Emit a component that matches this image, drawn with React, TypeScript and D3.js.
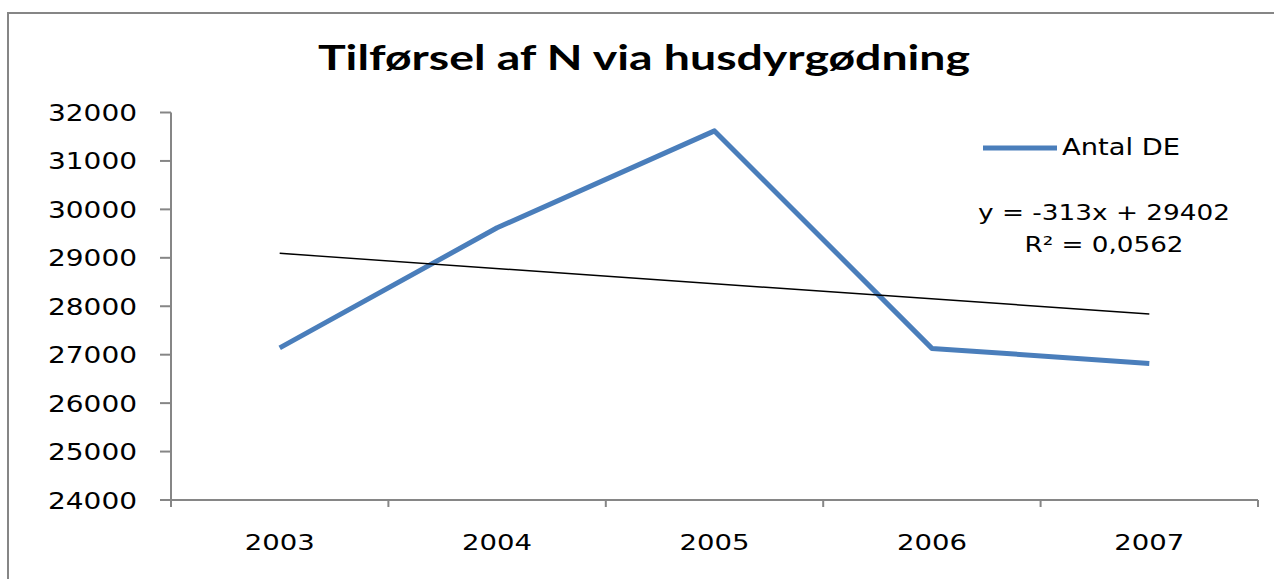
import React, { useEffect, useRef } from 'react';
import * as d3 from 'd3';

// ==================== DATA ====================
const categories = ['2003', '2004', '2005', '2006', '2007'];
const antalDE = [27140, 29620, 31620, 27130, 26820];
const yTicks = [24000, 25000, 26000, 27000, 28000, 29000, 30000, 31000, 32000];
const seriesName = 'Antal DE';
const titleText = 'Tilførsel af N via husdyrgødning';
const equationText = 'y = -313x + 29402';
const r2Text = 'R² = 0,0562';

const COLORS = {
    axis: '#868686',
    line: '#4A7EBB',
    trend: '#000000',
    text: '#000000'
};

const W = 1274;
const H = 579;

const App = () => {
    const svgRef = useRef<SVGSVGElement | null>(null);

    useEffect(() => {
        const svg = d3.select(svgRef.current);
        svg.selectAll('*').remove();

        const x = d3.scaleBand().domain(categories).range([171, 1258]);
        const y = d3.scaleLinear().domain([24000, 32000]).range([500, 112.5]);
        const cx = (c: string) => (x(c) as number) + x.bandwidth() / 2;

        // outer chart frame (runs off the right / bottom edge like the picture)
        svg.append('rect')
            .attr('x', 8).attr('y', 13)
            .attr('width', 1320).attr('height', 640)
            .attr('fill', '#fff')
            .attr('stroke', COLORS.axis)
            .attr('stroke-width', 2);

        // title
        svg.append('text')
            .attr('x', 644).attr('y', 70)
            .attr('text-anchor', 'middle')
            .attr('font-family', 'Lato, "Open Sans", sans-serif')
            .attr('font-weight', 'bold')
            .attr('font-size', 35)
            .attr('textLength', 652)
            .attr('lengthAdjust', 'spacingAndGlyphs')
            .attr('fill', COLORS.text)
            .text(titleText);

        // y axis
        const yAxis = svg.append('g');
        yAxis.append('line')
            .attr('x1', 171).attr('x2', 171)
            .attr('y1', y(32000)).attr('y2', y(24000))
            .attr('stroke', COLORS.axis).attr('stroke-width', 2);
        yAxis.selectAll('.ytick')
            .data(yTicks)
            .enter()
            .append('line')
            .attr('x1', 160).attr('x2', 171)
            .attr('y1', d => y(d)).attr('y2', d => y(d))
            .attr('stroke', COLORS.axis).attr('stroke-width', 2);
        yAxis.selectAll('.ylabel')
            .data(yTicks)
            .enter()
            .append('text')
            .attr('x', 137)
            .attr('y', d => y(d) + 8.5)
            .attr('text-anchor', 'end')
            .attr('font-family', '"DejaVu Sans", sans-serif')
            .attr('font-size', 23)
            .attr('textLength', 89)
            .attr('lengthAdjust', 'spacingAndGlyphs')
            .attr('fill', COLORS.text)
            .text(d => String(d));

        // x axis
        const xAxis = svg.append('g');
        xAxis.append('line')
            .attr('x1', 160).attr('x2', 1258)
            .attr('y1', 500).attr('y2', 500)
            .attr('stroke', COLORS.axis).attr('stroke-width', 2);
        const bounds = categories.map(c => x(c) as number).concat([1258]);
        xAxis.selectAll('.xtick')
            .data(bounds)
            .enter()
            .append('line')
            .attr('x1', d => d).attr('x2', d => d)
            .attr('y1', 500).attr('y2', 507)
            .attr('stroke', COLORS.axis).attr('stroke-width', 2);
        xAxis.selectAll('.xlabel')
            .data(categories)
            .enter()
            .append('text')
            .attr('x', d => cx(d))
            .attr('y', 550)
            .attr('text-anchor', 'middle')
            .attr('font-family', '"DejaVu Sans", sans-serif')
            .attr('font-size', 22)
            .attr('textLength', 70)
            .attr('lengthAdjust', 'spacingAndGlyphs')
            .attr('fill', COLORS.text)
            .text(d => d);

        // data line
        const pts = categories.map((c, i) => [cx(c), y(antalDE[i])] as [number, number]);
        svg.append('path')
            .attr('d', d3.line()(pts))
            .attr('fill', 'none')
            .attr('stroke', COLORS.line)
            .attr('stroke-width', 5)
            .attr('stroke-linejoin', 'round');

        // linear trendline (least squares on x = 1..n, as Excel does)
        const xs = categories.map((_, i) => i + 1);
        const mx = d3.mean(xs) as number;
        const my = d3.mean(antalDE) as number;
        const slope = d3.sum(xs, (v, i) => (v - mx) * (antalDE[i] - my)) / d3.sum(xs, v => (v - mx) ** 2);
        const intercept = my - slope * mx;
        const first = categories[0];
        const last = categories[categories.length - 1];
        svg.append('line')
            .attr('x1', cx(first)).attr('y1', y(slope * 1 + intercept))
            .attr('x2', cx(last)).attr('y2', y(slope * categories.length + intercept))
            .attr('stroke', COLORS.trend)
            .attr('stroke-width', 1.5);

        // legend
        svg.append('line')
            .attr('x1', 983).attr('x2', 1057)
            .attr('y1', 148).attr('y2', 148)
            .attr('stroke', COLORS.line)
            .attr('stroke-width', 5);
        svg.append('text')
            .attr('x', 1062).attr('y', 155)
            .attr('font-family', '"DejaVu Sans", sans-serif')
            .attr('font-size', 23)
            .attr('textLength', 118)
            .attr('lengthAdjust', 'spacingAndGlyphs')
            .attr('fill', COLORS.text)
            .text(seriesName);

        // trendline label
        svg.append('text')
            .attr('x', 1104).attr('y', 220)
            .attr('text-anchor', 'middle')
            .attr('font-family', '"DejaVu Sans", sans-serif')
            .attr('font-size', 21)
            .attr('textLength', 252)
            .attr('lengthAdjust', 'spacingAndGlyphs')
            .attr('fill', COLORS.text)
            .text(equationText);
        svg.append('text')
            .attr('x', 1104).attr('y', 252)
            .attr('text-anchor', 'middle')
            .attr('font-family', '"DejaVu Sans", sans-serif')
            .attr('font-size', 21)
            .attr('textLength', 159)
            .attr('lengthAdjust', 'spacingAndGlyphs')
            .attr('fill', COLORS.text)
            .text(r2Text);
    }, []);

    return (
        <svg
            ref={svgRef}
            width={W}
            height={H}
            style={{ position: 'absolute', left: 0, top: 0, display: 'block', background: '#fff' }}
        />
    );
};

export default App;
